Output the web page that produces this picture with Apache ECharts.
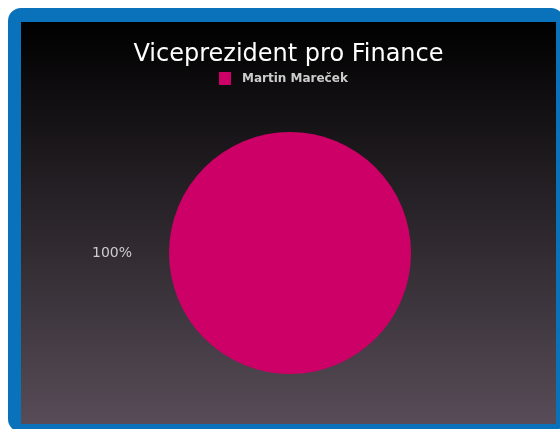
<!DOCTYPE html>
<html>
<head>
<meta charset="utf-8">
<script src="https://cdn.jsdelivr.net/npm/echarts@6/dist/echarts.min.js"></script>
<style>
  html, body { margin: 0; padding: 0; background: #fff; overflow: hidden; width: 560px; height: 429px; }
  #frame {
    position: absolute; left: 8px; top: 8px;
    border-style: solid; border-color: #0a71bb;
    border-width: 14px 8px 8px 13px;
    border-radius: 13px;
    width: 535px; height: 402px;
  }
  #main { width: 535px; height: 402px; }
</style>
</head>
<body>
<div id="frame"><div id="main"></div></div>
<script>
  var title = 'Viceprezident pro Finance';
  var names = ['Martin Mareček'];
  var values = [100];
  var colors = ['#cc0066'];

  var chart = echarts.init(document.getElementById('main'), null, { renderer: 'canvas' });
  chart.setOption({
    animation: false,
    backgroundColor: {
      type: 'linear', x: 0, y: 0, x2: 0, y2: 1,
      colorStops: [
        { offset: 0, color: '#000000' },
        { offset: 1, color: '#574c57' }
      ]
    },
    color: colors,
    title: {
      text: title,
      left: 'center',
      top: 16,
      textStyle: { color: '#ffffff', fontFamily: 'DejaVu Sans', fontSize: 24, fontWeight: 'normal' }
    },
    legend: {
      data: names,
      left: 193,
      top: 45,
      icon: 'rect',
      itemWidth: 12,
      itemHeight: 13,
      textStyle: { color: '#cccccc', fontFamily: 'DejaVu Sans', fontSize: 12, fontWeight: 'bold', padding: [0, 0, 0, 6] }
    },
    series: [{
      type: 'pie',
      center: [269, 231],
      radius: 121,
      startAngle: 0,
      silent: true,
      label: {
        show: true,
        position: 'outside',
        formatter: '{d}%',
        color: '#cccccc',
        fontFamily: 'DejaVu Sans',
        fontSize: 14
      },
      labelLine: { show: false, length: 20, length2: 12 },
      data: names.map(function (n, i) { return { name: n, value: values[i] }; })
    }]
  });
</script>
</body>
</html>
